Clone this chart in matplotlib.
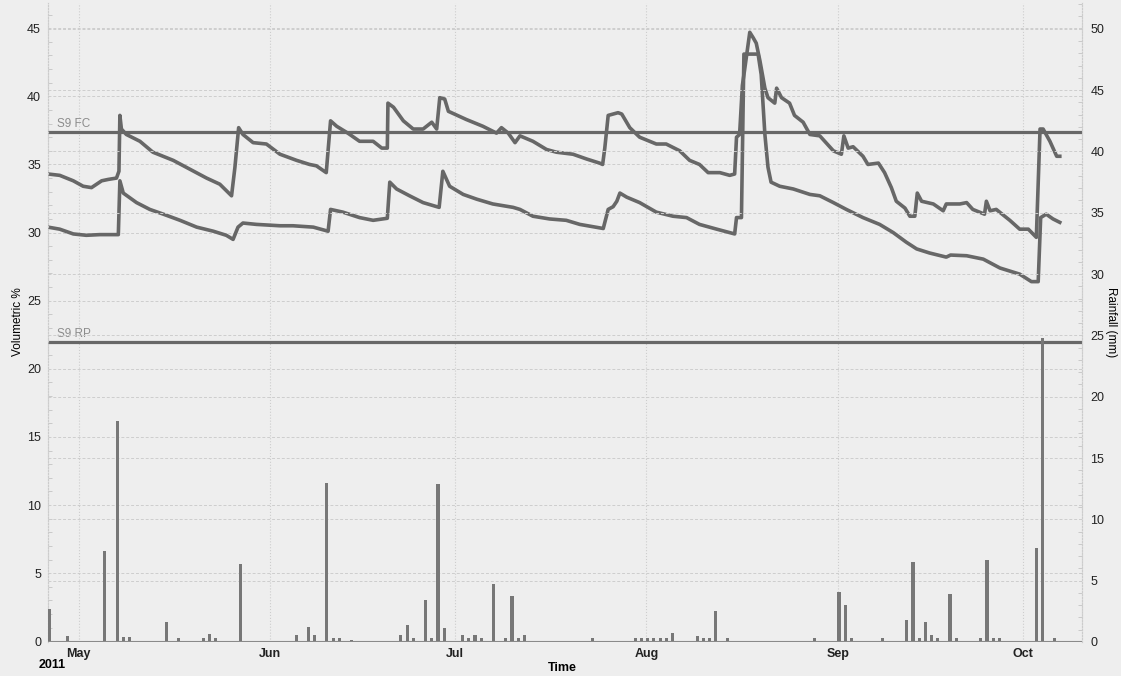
import matplotlib
matplotlib.use('Agg')
import matplotlib.pyplot as plt
import matplotlib.dates as mdates
from matplotlib.ticker import MultipleLocator
import numpy as np
import pandas as pd

plt.rcParams['font.family'] = ['Liberation Sans', 'DejaVu Sans']

# days since 1 May 2011
upper_day = [-5.0, -3.1, -0.9, 0.7, 2.05, 3.7, 4.75, 6.1, 6.5, 6.65, 6.9, 7.7, 9.9, 12.0,
             15.3, 18.0, 20.7, 22.85, 24.75, 25.3, 25.9, 26.6, 28.25, 30.4, 32.6, 35.3,
             37.4, 38.5, 40.1, 40.8, 41.8, 43.6, 45.5, 47.7, 49.1, 50.0, 50.1, 51.0, 52.6,
             54.2, 55.8, 57.2, 58.0, 58.5, 59.3, 59.9, 62.8, 65.5, 67.7, 68.5, 69.6, 70.7,
             71.5, 73.6, 75.8, 77.4, 80.1, 82.3, 84.4, 84.9, 85.25, 85.8, 87.4, 88.0, 89.3,
             90.9, 93.6, 95.2, 97.4, 99.0, 100.6, 102.0, 103.9, 105.5, 106.3, 106.6, 107.1,
             107.55, 107.9, 108.75, 109.3, 109.8, 110.4, 111.2, 111.7, 112.8, 113.1, 113.9,
             115.2, 116.0, 117.4, 118.5, 120.1, 122.3, 123.6, 124.0, 124.7, 125.5, 127.1,
             127.9, 129.6, 130.6, 131.7, 132.5, 133.9, 134.7, 135.5, 135.9, 136.6, 138.5,
             140.1, 140.6, 142.8, 143.9, 144.9, 146.8, 147.1, 147.7, 148.7, 150.9, 152.5,
             153.9, 155.2, 155.8, 156.3, 157.4, 158.5, 159.0]
upper_vwc = [34.3, 34.2, 33.8, 33.4, 33.3, 33.8, 33.9, 34.0, 34.5, 38.6, 37.6, 37.2, 36.7, 35.9,
             35.3, 34.65, 34.0, 33.55, 32.7, 34.8, 37.7, 37.2, 36.6, 36.5, 35.75, 35.3,
             35.0, 34.9, 34.4, 38.2, 37.8, 37.3, 36.7, 36.7, 36.2, 36.2, 39.5, 39.2, 38.2,
             37.6, 37.6, 38.1, 37.6, 39.9, 39.8, 38.9, 38.3, 37.8, 37.3, 37.7, 37.3, 36.6,
             37.1, 36.7, 36.1, 35.9, 35.75, 35.4, 35.1, 35.0, 36.2, 38.6, 38.8, 38.7, 37.7,
             37.0, 36.5, 36.5, 36.0, 35.3, 35.0, 34.4, 34.4, 34.2, 34.3, 37.0, 37.2,
             40.8, 41.9, 44.7, 44.3, 43.9, 42.6, 40.6, 39.9, 39.5, 40.6, 39.9,
             39.5, 38.6, 38.1, 37.2, 37.1, 36.0, 35.75, 37.1, 36.2, 36.3, 35.6,
             35.0, 35.1, 34.4, 33.3, 32.3, 31.8, 31.2, 31.2, 32.9, 32.3, 32.1,
             31.6, 32.1, 32.1, 32.2, 31.7, 31.35, 32.3, 31.6, 31.7, 30.9, 30.25,
             30.25, 29.65, 37.6, 37.6, 36.7, 35.6, 35.6]

lower_day = [-5.0, -3.1, -0.9, 1.2, 3.4, 6.4, 6.65, 7.2, 9.35, 11.5, 13.7, 16.4, 19.1, 21.8,
             23.9, 25.0, 25.8, 26.6, 28.8, 32.6, 34.7, 38.0, 40.4, 40.8, 42.8, 45.5, 47.7,
             50.0, 50.4, 51.5, 53.6, 55.8, 58.4, 59.0, 60.1, 62.3, 64.5, 67.1, 70.4, 71.5,
             73.6, 76.3, 79.0, 81.2, 85.0, 85.8, 86.6, 87.2, 87.7, 88.8, 90.9, 93.6, 96.3,
             98.5, 100.6, 103.4, 106.3, 106.6, 107.4, 107.8, 110.1, 110.6, 111.2, 111.7,
             112.2, 113.6, 115.8, 118.5, 120.1, 122.3, 124.4, 127.1, 129.8, 132.0, 134.1,
             135.8, 137.9, 140.6, 141.3, 143.9, 146.6, 149.3, 152.5, 154.4, 155.5, 155.9,
             156.8, 157.9, 159.0]
lower_vwc = [30.4, 30.25, 29.9, 29.8, 29.85, 29.85, 33.8, 32.9, 32.2, 31.7, 31.35, 30.9, 30.4, 30.1,
             29.8, 29.5, 30.4, 30.7, 30.6, 30.5, 30.5, 30.4, 30.1, 31.7, 31.5, 31.1, 30.9,
             31.05, 33.7, 33.2, 32.7, 32.2, 31.85, 34.5, 33.4, 32.8, 32.45, 32.1, 31.85, 31.7,
             31.2, 31.0, 30.9, 30.6, 30.3, 31.7, 31.9, 32.3, 32.9, 32.6, 32.2, 31.5, 31.2,
             31.1, 30.6, 30.25, 29.9, 31.1, 31.1, 43.1, 43.1, 41.6, 37.2, 34.8,
             33.7, 33.4, 33.2, 32.8, 32.7, 32.2, 31.7, 31.1, 30.6, 30.0, 29.3,
             28.8, 28.5, 28.2, 28.35, 28.3, 28.05, 27.4, 26.95, 26.4, 26.4, 31.1,
             31.35, 31.0, 30.75]

rain_dates = ['2011-04-26', '2011-04-29', '2011-05-05', '2011-05-07', '2011-05-08', '2011-05-09',
              '2011-05-15', '2011-05-17', '2011-05-21', '2011-05-22', '2011-05-23', '2011-05-27',
              '2011-06-05', '2011-06-07', '2011-06-08', '2011-06-10', '2011-06-11', '2011-06-12',
              '2011-06-14', '2011-06-22', '2011-06-23', '2011-06-24', '2011-06-26', '2011-06-27',
              '2011-06-28', '2011-06-29', '2011-07-02', '2011-07-03', '2011-07-04', '2011-07-05',
              '2011-07-07', '2011-07-09', '2011-07-10', '2011-07-11', '2011-07-12', '2011-07-23',
              '2011-07-30', '2011-07-31', '2011-08-01', '2011-08-02', '2011-08-03', '2011-08-04',
              '2011-08-05', '2011-08-09', '2011-08-10', '2011-08-11', '2011-08-12', '2011-08-14',
              '2011-08-28', '2011-09-01', '2011-09-02', '2011-09-03', '2011-09-08', '2011-09-12',
              '2011-09-13', '2011-09-14', '2011-09-15', '2011-09-16', '2011-09-17', '2011-09-19',
              '2011-09-20', '2011-09-24', '2011-09-25', '2011-09-26', '2011-09-27', '2011-10-03',
              '2011-10-04', '2011-10-06']
rain_mm = [2.7, 0.5, 7.4, 18.0, 0.4, 0.4, 1.6, 0.3, 0.3, 0.65, 0.3, 6.4,
           0.6, 1.2, 0.6, 13.0, 0.3, 0.3, 0.2, 0.6, 1.4, 0.3, 3.4, 0.3,
           12.9, 1.15, 0.6, 0.3, 0.6, 0.3, 4.7, 0.3, 3.75, 0.3, 0.6, 0.3,
           0.3, 0.3, 0.3, 0.3, 0.3, 0.3, 0.7, 0.5, 0.3, 0.3, 2.5, 0.3,
           0.3, 4.05, 3.0, 0.3, 0.3, 1.8, 6.5, 0.3, 1.6, 0.6, 0.3, 3.95,
           0.3, 0.3, 6.7, 0.3, 0.3, 7.7, 24.8, 0.3]

fc_level = 37.4   # S9 FC
rp_level = 22.0   # S9 RP

base = pd.Timestamp('2011-05-01')
bg = '#eeeeee'
line_c = '#676767'
grid_c = '#cdcdcd'


def to_dates(days):
    return base + pd.to_timedelta(np.array(days), unit='D')


fig = plt.figure(figsize=(11.21, 6.76), dpi=100, facecolor=bg)
ax = fig.add_axes([48 / 1121, 1 - 642 / 676, (1082 - 48) / 1121, (642 - 3) / 676])
ax.set_facecolor(bg)
ax2 = ax.twinx()

# rainfall bars (right axis)
rx = pd.to_datetime(rain_dates) + pd.Timedelta(hours=5)
ax2.bar(rx, rain_mm, width=0.5, color='#777777', zorder=3)
ax2.axhline(0, color='#8a8a8a', lw=1.5, zorder=3)

# soil moisture lines (left axis)
ax.plot(to_dates(upper_day), upper_vwc, color=line_c, lw=2.6, zorder=4)
ax.plot(to_dates(lower_day), lower_vwc, color=line_c, lw=2.6, zorder=4)
ax.axhline(fc_level, color=line_c, lw=2.3, zorder=4)
ax.axhline(rp_level, color=line_c, lw=2.3, zorder=4)
x0 = base + pd.Timedelta(days=-3.6)
ax.text(x0, fc_level + 0.15, 'S9 FC', color='#8c8c8c', fontsize=8.5, va='bottom')
ax.text(x0, rp_level + 0.15, 'S9 RP', color='#8c8c8c', fontsize=8.5, va='bottom')

ax.set_xlim(base + pd.Timedelta(days=-5.0), base + pd.Timedelta(days=162.6))
ax.set_ylim(-0.05, 46.85)
ax2.set_ylim(0, 52.1)

ax.xaxis.set_major_locator(mdates.MonthLocator())
ax.xaxis.set_major_formatter(mdates.DateFormatter('%b'))
ax.yaxis.set_major_locator(MultipleLocator(5))
ax.yaxis.set_minor_locator(MultipleLocator(1))
ax2.yaxis.set_major_locator(MultipleLocator(5))
ax2.yaxis.set_minor_locator(MultipleLocator(1))

for a in (ax, ax2):
    a.grid(axis='y', color=grid_c, lw=0.7, ls=(0, (3, 2)))
    for s in ('top', 'bottom'):
        a.spines[s].set_visible(False)
    for s in ('left', 'right'):
        a.spines[s].set_color('#cccccc')
        a.spines[s].set_linestyle(':')
    a.tick_params(which='major', length=0, labelsize=9, labelcolor='#222222')
    a.tick_params(which='minor', length=3, color='#c4c4c4', direction='in')
ax.grid(axis='x', color=grid_c, lw=0.8, ls=':')
ax.tick_params(axis='y', pad=5)
ax2.tick_params(axis='y', pad=6)
ax.tick_params(axis='x', pad=4)
for lab in ax.get_xticklabels():
    lab.set_fontweight('bold')

fig.text(18 / 1121, 1 - 322 / 676, 'Volumetric %', fontsize=8.5, rotation=90,
         va='center', ha='center')
fig.text(1111 / 1121, 1 - 322 / 676, 'Rainfall (mm)', fontsize=8.5, rotation=270,
         va='center', ha='center')
fig.text(52 / 1121, 1 - 665 / 676, '2011', fontsize=9, fontweight='bold', va='center', ha='center')
fig.text(562 / 1121, 1 - 668 / 676, 'Time', fontsize=9, fontweight='bold', va='center', ha='center')

fig.savefig('out.png', dpi=100, facecolor=bg)
